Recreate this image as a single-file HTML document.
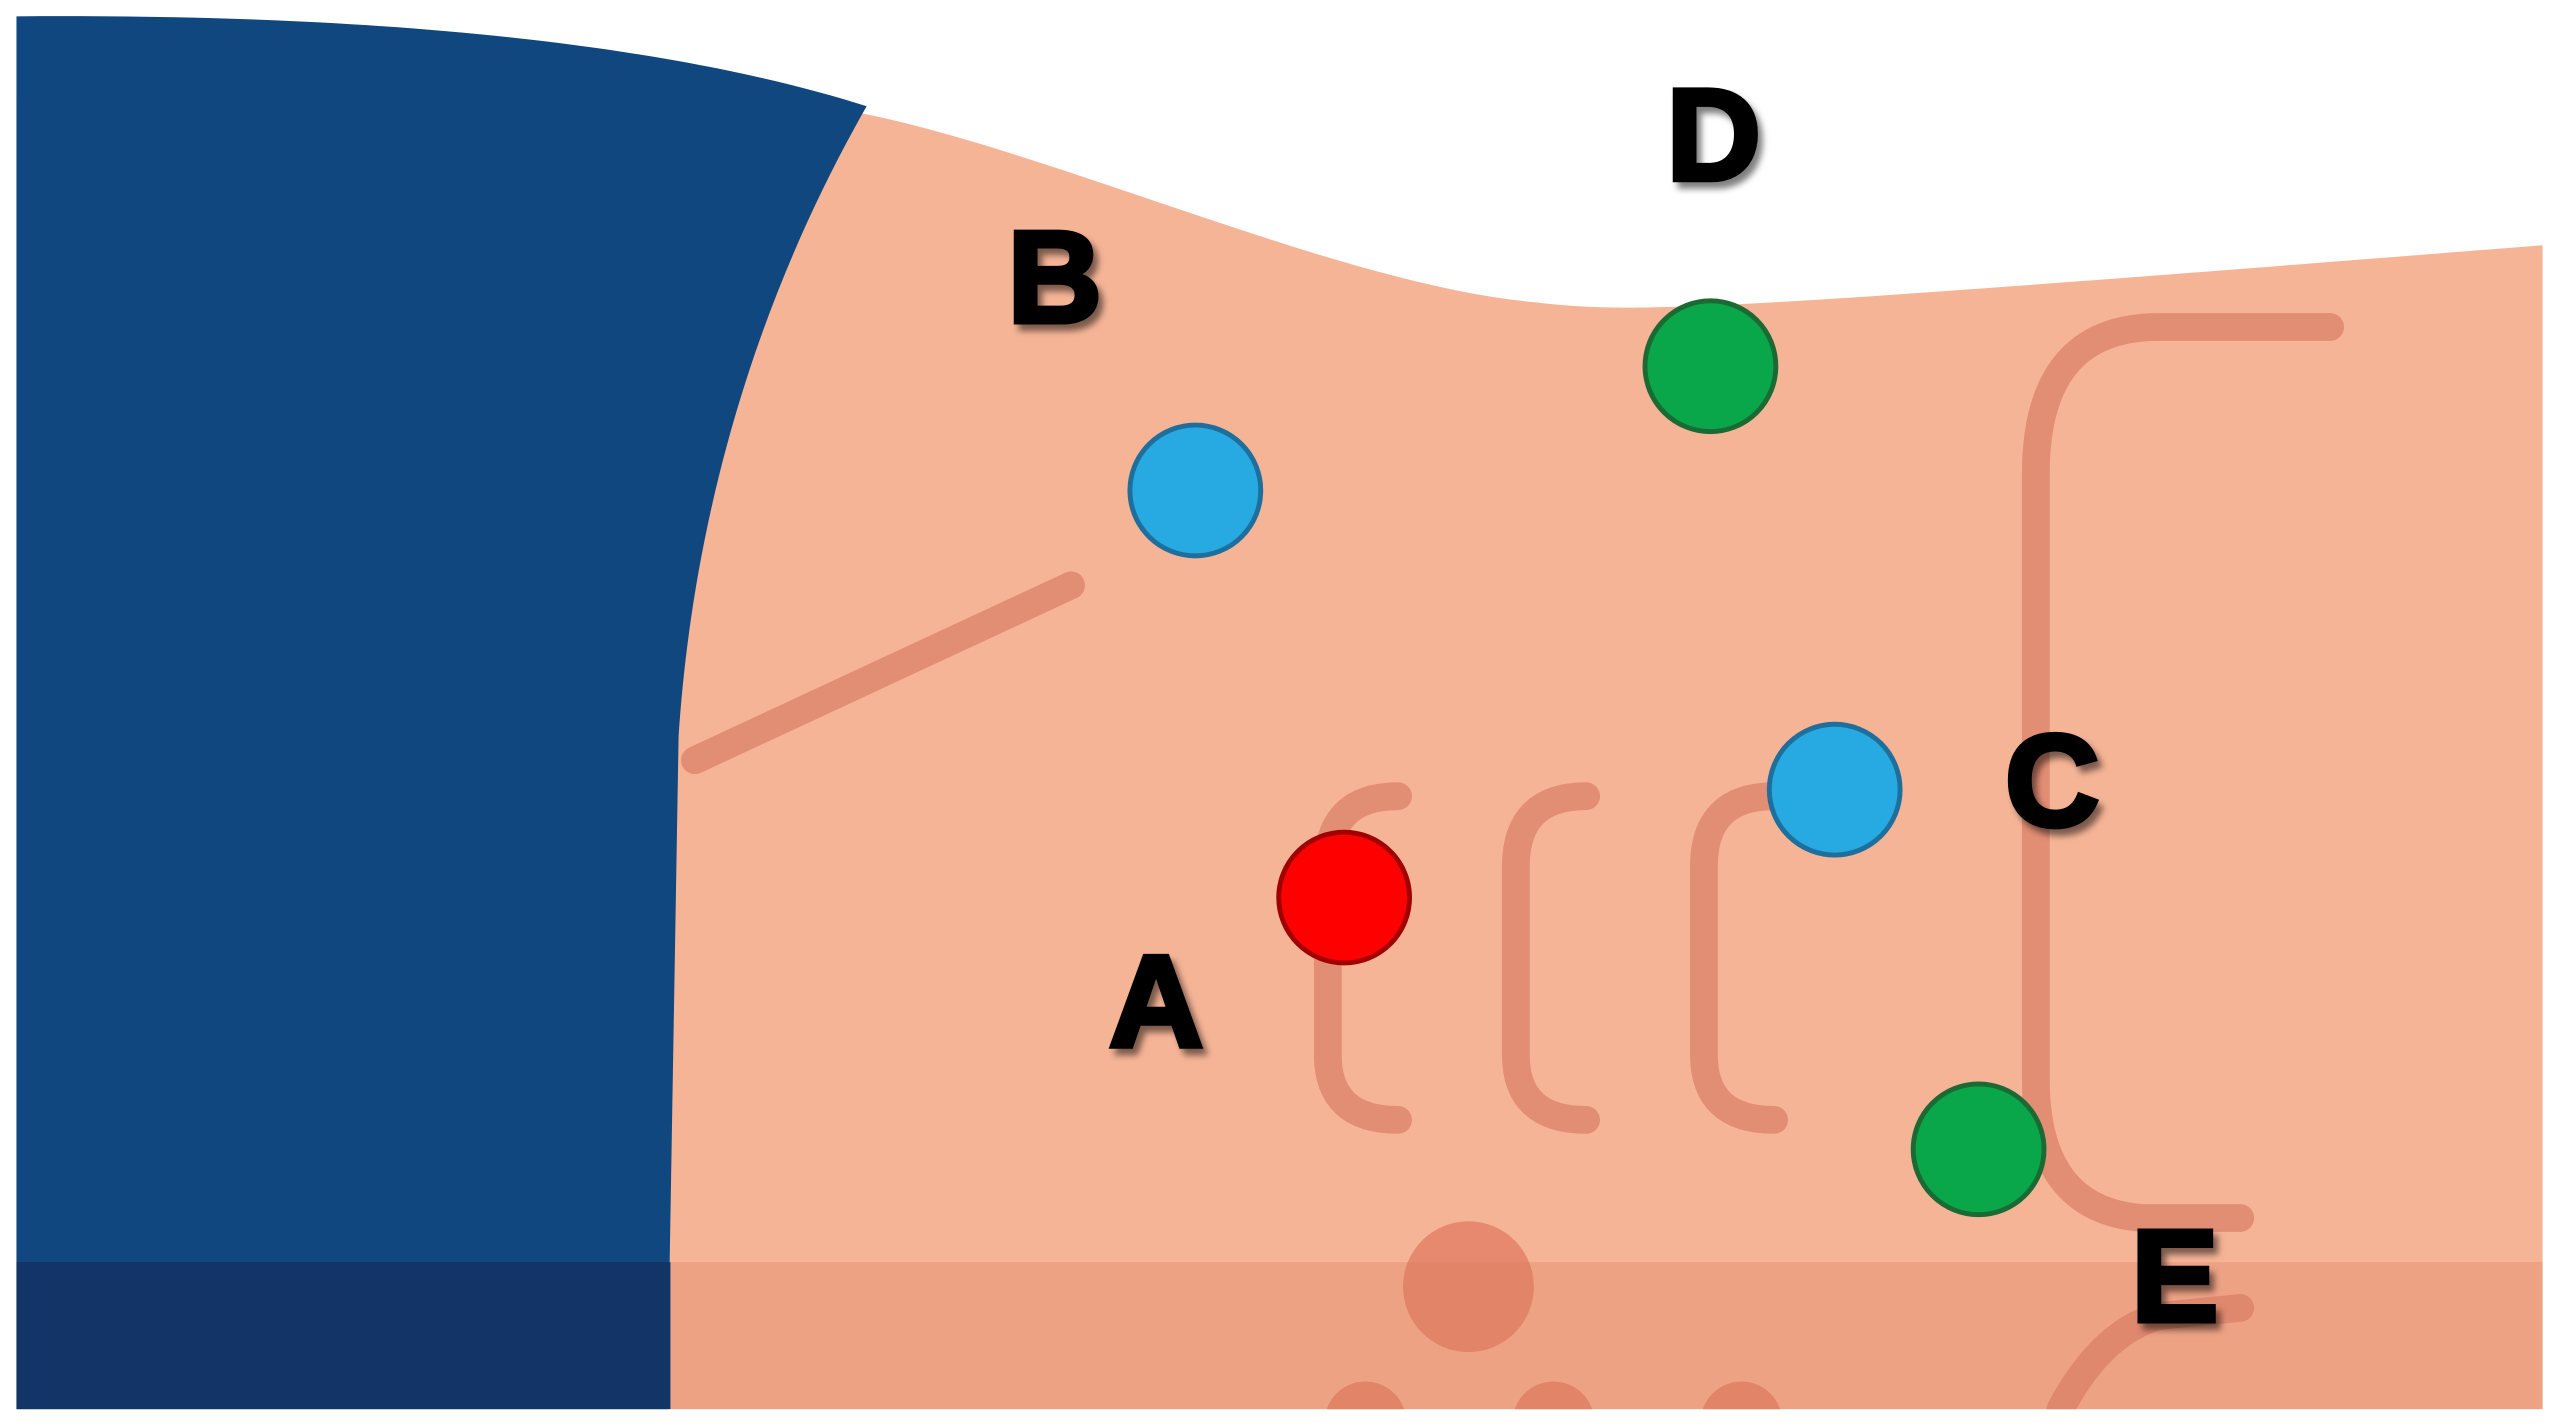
<!DOCTYPE html>
<html><head><style>
html,body{margin:0;padding:0;background:#fff;width:2564px;height:1424px;overflow:hidden}
svg{display:block}
text{font-family:"Liberation Sans",sans-serif;font-weight:bold;font-size:80px;fill:#000;text-anchor:middle;stroke:#000;stroke-width:3}
</style></head><body>
<svg width="2564" height="1424" viewBox="0 0 1568 871" preserveAspectRatio="none">
<defs><clipPath id="c"><rect x="10" y="0" width="1545" height="862"/></clipPath>
<filter id="s"><feDropShadow dx="3" dy="4" stdDeviation="2" flood-color="#000" flood-opacity="0.5"/></filter></defs>
<g clip-path="url(#c)">
<path d="M10,60 L520,68 C640,90 820,175 940,185 C1000,192 1050,190 1555,150 L1555,862 L10,862 Z" fill="#f6b496"/>
<path d="M10,10 C250,8 420,30 530,65 C470,170 425,300 415,450 L408,862 L10,862 Z" fill="#10477f"/>
<g fill="none" stroke="#e28e74" stroke-width="17" stroke-linecap="round">
<path d="M425,465 L655,358"/>
<path d="M855,487 Q812,487 812,530 L812,645 Q812,685 855,685"/>
<path d="M970,487 Q927,487 927,530 L927,645 Q927,685 970,685"/>
<path d="M1085,487 Q1042,487 1042,530 L1042,645 Q1042,685 1085,685"/>
<path d="M1425,200 L1320,200 Q1245,200 1245,290 L1245,660 Q1245,740 1310,745 L1370,745"/>
<path d="M1370,800 L1320,805 Q1285,815 1260,862"/>
</g>
<circle cx="898" cy="787" r="40" fill="#e6896e"/>
<circle cx="835" cy="870" r="25" fill="#e6896e"/>
<circle cx="950" cy="870" r="25" fill="#e6896e"/>
<circle cx="1065" cy="870" r="25" fill="#e6896e"/>
<rect x="410" y="772" width="1145" height="90" fill="#d87a5e" opacity="0.3"/>
<rect x="10" y="772" width="400" height="90" fill="#123466"/>
</g>
<g stroke-width="3">
<circle cx="731" cy="300" r="40" fill="#27aae1" stroke="#1f6f9c"/>
<circle cx="1046" cy="224" r="40" fill="#0aa64a" stroke="#1b6a33"/>
<circle cx="1122" cy="483" r="40" fill="#27aae1" stroke="#1f6f9c"/>
<circle cx="822" cy="549" r="40" fill="#fe0000" stroke="#a00000"/>
<circle cx="1210" cy="703" r="40" fill="#0aa64a" stroke="#1b6a33"/>
</g>
<g filter="url(#s)">
<text x="645" y="197">B</text>
<text x="1048" y="110">D</text>
<text x="1255" y="505">C</text>
<text x="707" y="640">A</text>
<text x="1330" y="808">E</text>
</g>
</svg>
</body></html>
